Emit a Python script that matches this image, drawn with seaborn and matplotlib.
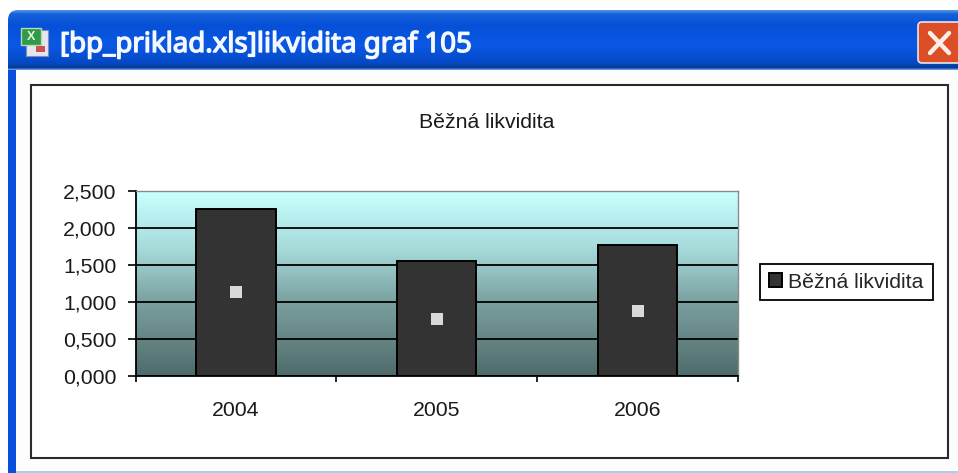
import numpy as np
import pandas as pd
import seaborn as sns
import matplotlib
matplotlib.use("Agg")
import matplotlib.pyplot as plt
import matplotlib.patheffects as pe
from matplotlib.colors import LinearSegmentedColormap
from matplotlib.patches import FancyBboxPatch, Rectangle
from matplotlib.ticker import FuncFormatter

years = ["2004", "2005", "2006"]
current_ratio = [2.26, 1.55, 1.77]
y_ticks = [0.0, 0.5, 1.0, 1.5, 2.0, 2.5]
series_name = "Běžná likvidita"
window_title = "[bp_priklad.xls]likvidita graf 105"

W, H = 958, 473
sns.set_theme(style="white")
plt.rcParams["font.family"] = ["Liberation Sans", "DejaVu Sans"]
fig = plt.figure(figsize=(W / 100, H / 100), dpi=100, facecolor="white")

# window chrome, in pixel coordinates
ch = fig.add_axes([0, 0, 1, 1], zorder=0)
ch.set_xlim(0, W); ch.set_ylim(H, 0); ch.axis("off")
ch.add_patch(FancyBboxPatch((16, 22), W, 500, boxstyle="round,pad=8,rounding_size=10",
                            fc="#0b50dc", ec="none", mutation_aspect=1))
ch.add_patch(Rectangle((16, 70), W, 401.5, fc="#fdfdfd", ec="none", zorder=2))
ch.add_patch(Rectangle((16, 471), W, 3, fc="#a9cdf5", ec="none", zorder=2))
bar_cmap = LinearSegmentedColormap.from_list("bar", [
    (0, "#4f92e8"), (0.06, "#1560d8"), (0.25, "#0650d8"), (0.6, "#0a58e4"),
    (0.9, "#0548c4"), (0.97, "#0a3a90"), (1, "#5c9cec")])
clip = FancyBboxPatch((18, 20), W, 100, boxstyle="round,pad=10,rounding_size=10",
                      fc="none", ec="none", transform=ch.transData)
ch.add_patch(clip)
tb = ch.imshow(np.linspace(0, 1, 64)[:, None], cmap=bar_cmap, aspect="auto",
               extent=[8, W, 70, 10], zorder=3)
tb.set_clip_path(clip)
ch.set_xlim(0, W); ch.set_ylim(H, 0)
ch.text(60, 45, window_title, color="#f4f8ff", fontsize=19.9,
        family="Noto Sans", va="center", ha="left", zorder=5,
        path_effects=[pe.withStroke(linewidth=1.0, foreground="#f4f8ff")])
# spreadsheet icon
ch.add_patch(Rectangle((26, 30), 22, 26, fc="#e6e6f0", ec="#8090b0", lw=0.8, zorder=4))
ch.add_patch(Rectangle((21, 28), 20, 17, fc="#2f9a4a", ec="#b8d8b0", lw=1, zorder=5))
ch.text(31, 36.5, "X", color="#eaf5d8", fontsize=9, fontweight="bold",
        ha="center", va="center", zorder=6)
ch.add_patch(Rectangle((36, 46), 9, 6, fc="#d05050", ec="none", zorder=5))
# close button
ch.add_patch(FancyBboxPatch((921, 25), 40, 35, boxstyle="round,pad=3,rounding_size=4",
                            fc="#dc4f26", ec="#e8e4ea", lw=1.2, zorder=4))
ch.plot([930, 949], [33, 53], color="#fbeee6", lw=3.2, zorder=5, solid_capstyle="round")
ch.plot([949, 930], [33, 53], color="#fbeee6", lw=3.2, zorder=5, solid_capstyle="round")
# chart frame
ch.add_patch(Rectangle((31, 85), 917, 373, fc="white", ec="#2a2a2a", lw=1.5, zorder=3))

# plot area
L, R, T, B = 135.5, 738, 191, 376
ax = fig.add_axes([L / W, 1 - B / H, (R - L) / W, (B - T) / H], zorder=2)
df = pd.DataFrame({"year": years, "value": current_ratio})
sns.barplot(data=df, x="year", y="value", width=0.395, color="#333333", saturation=1,
            edgecolor="black", linewidth=1.4, ax=ax, label=series_name, zorder=3)
df["mid"] = df["value"] / 2
sns.pointplot(data=df, x="year", y="mid", linestyle="none", marker="s", markersize=8.6,
              markeredgewidth=0, color="#d9d9d9", ax=ax, zorder=4)

sky = LinearSegmentedColormap.from_list(
    "sky", [(0, "#4f6b6b"), (0.4, "#7ba0a0"), (0.7, "#a8dcdc"), (1, "#c8ffff")])
ax.imshow(np.linspace(1, 0, 128)[:, None], cmap=sky, aspect="auto",
          extent=[-0.5, 2.5, 0, 2.5], zorder=0)
ax.set_xlim(-0.5, 2.5); ax.set_ylim(0, 2.5)
ax.set_yticks(y_ticks)
ax.yaxis.set_major_formatter(FuncFormatter(lambda v, _: f"{v:.3f}".replace(".", ",")))
ax.yaxis.grid(True, color="black", lw=1.3, zorder=1)
ax.xaxis.grid(False)
ax.set_axisbelow(True)
ax.set_xlabel(""); ax.set_ylabel("")
ax.set_xticks(np.arange(-0.5, 3), minor=True)
ax.tick_params(axis="x", which="major", length=0, pad=18, labelsize=15.3, colors="#1a1a1a")
ax.tick_params(axis="x", which="minor", length=4.5, width=1.2, color="black", bottom=True)
ax.tick_params(axis="y", length=5.8, width=1.2, color="black", pad=8, labelsize=15.3,
               labelcolor="#1a1a1a", left=True)
for s in ["left", "bottom"]:
    ax.spines[s].set_color("black"); ax.spines[s].set_linewidth(1.3)
for s in ["top", "right"]:
    ax.spines[s].set_color("#8a8a8a"); ax.spines[s].set_linewidth(1)

leg = ax.legend(loc="center left", bbox_to_anchor=(760 / W, 1 - 282 / H),
                bbox_transform=fig.transFigure, fontsize=15.3, frameon=True, fancybox=False,
                edgecolor="black", framealpha=1, borderpad=0.42, borderaxespad=0,
                handlelength=0.62, handleheight=0.62, handletextpad=0.3)
leg.get_frame().set_linewidth(1.3)
leg.get_frame().set_facecolor("white")

fig.text(487 / W, 1 - 122 / H, series_name, ha="center", va="center", fontsize=15.3,
         color="#1a1a1a", zorder=5)

fig.savefig("out.png", dpi=100)
